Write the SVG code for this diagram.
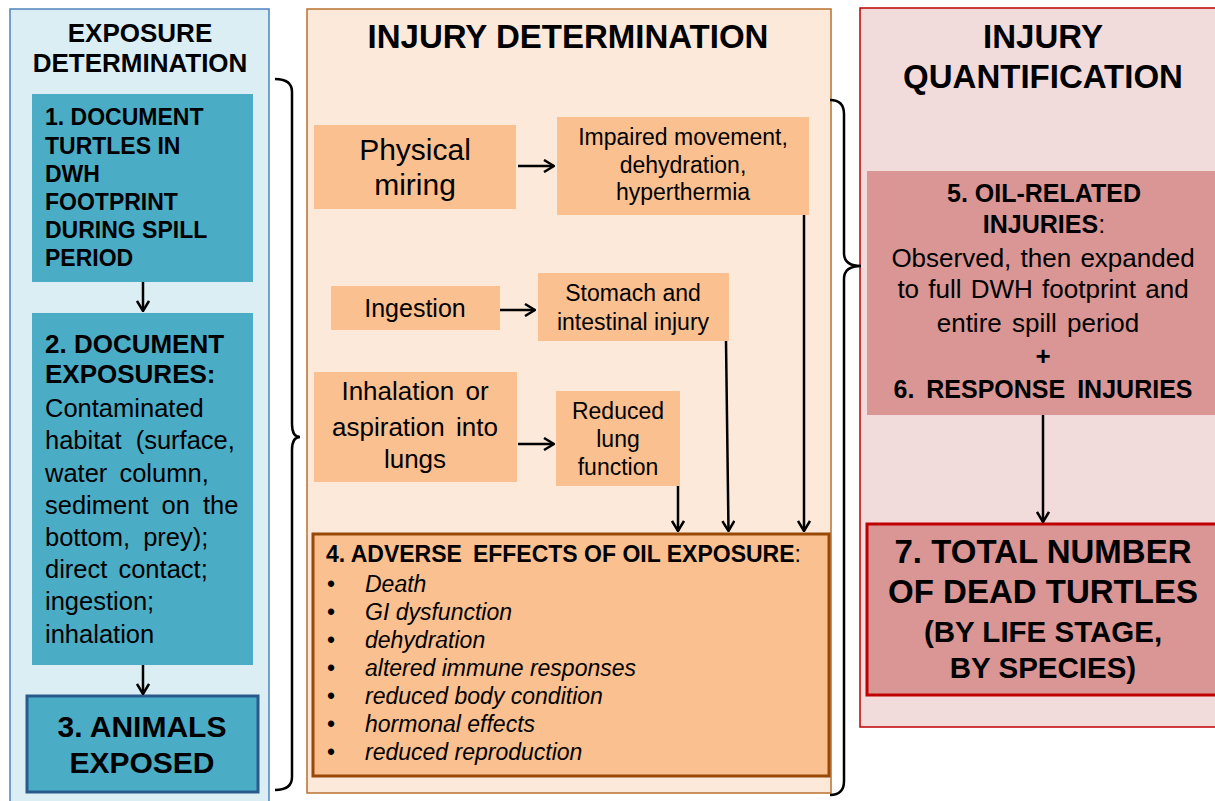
<svg xmlns="http://www.w3.org/2000/svg" width="1215" height="801" viewBox="0 0 1215 801">
<defs>
<marker id="ah" viewBox="0 0 12 14" refX="11" refY="7" markerWidth="12" markerHeight="14" orient="auto" markerUnits="userSpaceOnUse">
<path d="M1,1 L11,7 L1,13" fill="none" stroke="#000" stroke-width="2.5"/>
</marker>
<style>
text{font-family:"Liberation Sans",Arial,sans-serif;fill:#000}
.b{font-weight:bold}
.c{text-anchor:middle}
.i{font-style:italic}
.ob{fill:#fac090}
.conn line,.conn path{stroke:#000;stroke-width:2.5;fill:none}
.brace{stroke:#000;stroke-width:2.5;fill:none}
</style>
</defs>
<rect width="1215" height="801" fill="#ffffff"/>

<g id="panel-exposure">
<rect x="10" y="9" width="259" height="800" fill="#dbeef4" stroke="#4f81bd" stroke-width="1.5"/>
<text class="b c" x="140" y="42" font-size="26">EXPOSURE</text>
<text class="b c" x="140" y="72" font-size="26">DETERMINATION</text>
</g>

<g id="node1">
<rect x="32" y="94" width="221" height="188" fill="#4bacc6"/>
<text class="b" x="45" font-size="23">
<tspan x="45" y="125">1. DOCUMENT</tspan>
<tspan x="45" y="153.5">TURTLES IN</tspan>
<tspan x="45" y="182">DWH</tspan>
<tspan x="45" y="210">FOOTPRINT</tspan>
<tspan x="45" y="238">DURING SPILL</tspan>
<tspan x="45" y="266">PERIOD</tspan>
</text>
</g>

<g id="node2">
<rect x="32" y="313" width="221" height="352" fill="#4bacc6"/>
<text class="b" x="45" y="353" font-size="26">2. DOCUMENT</text>
<text class="b" x="45" y="383" font-size="26">EXPOSURES:</text>
<text x="45" font-size="25.5">
<tspan x="45" y="417">Contaminated</tspan>
<tspan x="45" y="449" word-spacing="7">habitat (surface,</tspan>
<tspan x="45" y="482" word-spacing="5">water column,</tspan>
<tspan x="45" y="514" word-spacing="6">sediment on the</tspan>
<tspan x="45" y="546" word-spacing="6">bottom, prey);</tspan>
<tspan x="45" y="578" word-spacing="4">direct contact;</tspan>
<tspan x="45" y="610">ingestion;</tspan>
<tspan x="45" y="643">inhalation</tspan>
</text>
</g>

<g id="node3">
<rect x="27" y="696" width="231" height="96" fill="#4bacc6" stroke="#2a5a8c" stroke-width="3"/>
<text class="b c" x="142" y="737" font-size="30">3. ANIMALS</text>
<text class="b c" x="142" y="773" font-size="30">EXPOSED</text>
</g>

<g id="panel-injury-determination">
<rect x="307" y="9" width="524" height="784" fill="#fde9d9" stroke="#b8712f" stroke-width="1.5"/>
<text class="b c" x="568" y="48" font-size="33">INJURY DETERMINATION</text>
</g>

<g id="node-physical">
<rect class="ob" x="314" y="125" width="202" height="84"/>
<text class="c" x="415" y="160" font-size="30">Physical</text>
<text class="c" x="415" y="195" font-size="30">miring</text>
</g>

<g id="node-impaired">
<rect class="ob" x="557" y="117" width="252" height="98"/>
<text class="c" x="683" y="145" font-size="23">Impaired movement,</text>
<text class="c" x="683" y="173" font-size="23">dehydration,</text>
<text class="c" x="683" y="200" font-size="23">hyperthermia</text>
</g>

<g id="node-ingestion">
<rect class="ob" x="331" y="286" width="169" height="44"/>
<text class="c" x="415" y="317" font-size="25">Ingestion</text>
</g>

<g id="node-stomach">
<rect class="ob" x="538" y="273" width="191" height="68"/>
<text class="c" x="633" y="301" font-size="23">Stomach and</text>
<text class="c" x="633" y="330" font-size="23">intestinal injury</text>
</g>

<g id="node-inhalation">
<rect class="ob" x="314" y="372" width="203" height="110"/>
<text class="c" x="415" y="400" font-size="26" word-spacing="4">Inhalation or</text>
<text class="c" x="415" y="436" font-size="26" word-spacing="4">aspiration into</text>
<text class="c" x="415" y="468" font-size="26">lungs</text>
</g>

<g id="node-lung">
<rect class="ob" x="556" y="391" width="124" height="95"/>
<text class="c" x="618" y="419" font-size="23">Reduced</text>
<text class="c" x="618" y="447" font-size="23">lung</text>
<text class="c" x="618" y="475" font-size="23">function</text>
</g>

<g id="node4">
<rect x="313" y="534" width="516" height="242" fill="#fac090" stroke="#984807" stroke-width="3"/>
<text class="b" x="326" y="562" font-size="23">4. ADVERSE<tspan dx="11">EFFECTS OF OIL EXPOSURE</tspan><tspan font-weight="normal">:</tspan></text>
<g font-size="23">
<text x="327" y="592">•</text><text class="i" x="365" y="592">Death</text>
<text x="327" y="620">•</text><text class="i" x="365" y="620">GI dysfunction</text>
<text x="327" y="648">•</text><text class="i" x="365" y="648">dehydration</text>
<text x="327" y="676">•</text><text class="i" x="365" y="676">altered immune responses</text>
<text x="327" y="704">•</text><text class="i" x="365" y="704">reduced body condition</text>
<text x="327" y="732">•</text><text class="i" x="365" y="732">hormonal effects</text>
<text x="327" y="760">•</text><text class="i" x="365" y="760">reduced reproduction</text>
</g>
</g>

<g id="panel-injury-quantification">
<rect x="860" y="8" width="370" height="719" fill="#f2dcdb" stroke="#c00000" stroke-width="1.5"/>
<text class="b c" x="1043" y="48" font-size="33">INJURY</text>
<text class="b c" x="1043" y="88" font-size="33">QUANTIFICATION</text>
</g>

<g id="node5-6">
<rect x="867" y="171" width="360" height="244" fill="#d99694"/>
<text class="b c" x="1044" y="202" font-size="25">5. OIL-RELATED</text>
<text class="b c" x="1044" y="233" font-size="25">INJURIES<tspan font-weight="normal">:</tspan></text>
<text class="c" x="1043" y="267" font-size="26" word-spacing="2">Observed, then expanded</text>
<text class="c" x="1043" y="298" font-size="26" word-spacing="2">to full DWH footprint and</text>
<text class="c" x="1038" y="332" font-size="26" word-spacing="3">entire spill period</text>
<text class="b c" x="1043" y="365" font-size="26">+</text>
<text class="b c" x="1043" y="398" font-size="25" word-spacing="5">6. RESPONSE INJURIES</text>
</g>

<g id="node7">
<rect x="867" y="524" width="360" height="171" fill="#d99694" stroke="#c00000" stroke-width="3"/>
<text class="b c" x="1043" y="563" font-size="33">7. TOTAL NUMBER</text>
<text class="b c" x="1043" y="603" font-size="33">OF DEAD TURTLES</text>
<text class="b c" x="1043" y="642" font-size="29.5">(BY LIFE STAGE,</text>
<text class="b c" x="1043" y="678" font-size="29.5">BY SPECIES)</text>
</g>

<g id="connectors" class="conn">
<line x1="143" y1="282" x2="143" y2="311" marker-end="url(#ah)"/>
<line x1="143" y1="665" x2="143" y2="694" marker-end="url(#ah)"/>
<line x1="518" y1="166" x2="554" y2="166" marker-end="url(#ah)"/>
<line x1="500" y1="310" x2="535" y2="310" marker-end="url(#ah)"/>
<line x1="518" y1="444" x2="554" y2="444" marker-end="url(#ah)"/>
<line x1="678" y1="486" x2="678" y2="531" marker-end="url(#ah)"/>
<line x1="726" y1="341" x2="728.5" y2="531" marker-end="url(#ah)"/>
<line x1="804" y1="215" x2="804" y2="531" marker-end="url(#ah)"/>
<line x1="1043" y1="415" x2="1043" y2="522" marker-end="url(#ah)"/>
<path class="brace" d="M275,79 Q292,79 292,92 L292,424 Q292,437 300,437 Q292,437 292,450 L292,777 Q292,790 275,790"/>
<path class="brace" d="M830,100 Q844,100 844,114 L844,253 Q844,266 861,266 Q844,266 844,279 L844,781 Q844,795 830,795"/>
</g>
</svg>
